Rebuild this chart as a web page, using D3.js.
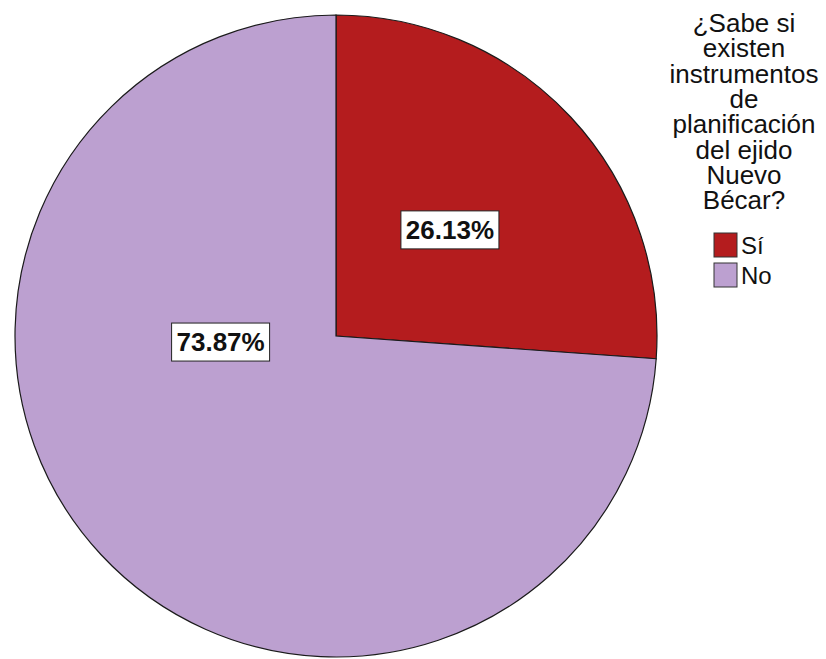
<!DOCTYPE html>
<html>
<head>
<meta charset="utf-8">
<script src="https://cdn.jsdelivr.net/npm/d3@7"></script>
<style>
  body { margin: 0; background: #fff; }
  svg { display: block; font-family: Arial, "Liberation Sans", sans-serif; }
</style>
</head>
<body>
<svg id="chart" width="826" height="659"></svg>
<script>
const categories = ['Sí', 'No'];
const percents = [26.13, 73.87];
const sliceColors = ['#B41C1E', '#BCA0D0'];
const legendTitle = ['¿Sabe si', 'existen', 'instrumentos', 'de', 'planificación', 'del ejido', 'Nuevo', 'Bécar?'];

const svg = d3.select('#chart');
const cx = 336, cy = 336, radius = 321;

const g = svg.append('g').attr('transform', `translate(${cx},${cy})`);

const pie = d3.pie().sort(null).value(d => d.value);
const arcs = pie(categories.map((c, i) => ({ name: c, value: percents[i] })));
const arc = d3.arc().innerRadius(0).outerRadius(radius);

g.selectAll('path.slice')
    .data(arcs)
    .enter()
    .append('path')
    .attr('class', 'slice')
    .attr('d', arc)
    .style('fill', (d, i) => sliceColors[i])
    .style('stroke', '#1a1a1a')
    .style('stroke-width', 1.2);

// label positions (SPSS places the big slice label left of centre)
function labelPoint(d, i) {
    if (i === 0) {
        const a = (d.startAngle + d.endAngle) / 2;
        return [Math.sin(a) * radius * 0.485, -Math.cos(a) * radius * 0.485];
    }
    const a = 267 * Math.PI / 180;
    return [Math.sin(a) * radius * 0.36, -Math.cos(a) * radius * 0.36];
}

const labels = g.selectAll('g.lbl')
    .data(arcs)
    .enter()
    .append('g')
    .attr('class', 'lbl')
    .attr('transform', (d, i) => `translate(${labelPoint(d, i)})`);

labels.append('rect')
    .attr('x', -49).attr('y', -19)
    .attr('width', 98).attr('height', 38)
    .style('fill', '#fff')
    .style('stroke', '#222')
    .style('stroke-width', 1);

labels.append('text')
    .attr('text-anchor', 'middle')
    .attr('dy', '0.36em')
    .style('font-size', '26px')
    .style('font-weight', 'bold')
    .style('fill', '#111')
    .text(d => d3.format('.2f')(d.data.value) + '%');

// Legend
const lg = svg.append('g').attr('transform', 'translate(744,0)');
lg.selectAll('text.title')
    .data(legendTitle)
    .enter()
    .append('text')
    .attr('class', 'title')
    .attr('text-anchor', 'middle')
    .attr('y', (d, i) => 32 + i * 25.3)
    .style('font-size', '26px')
    .style('fill', '#111')
    .text(d => d);

const items = svg.append('g').attr('transform', 'translate(714,233)');
const item = items.selectAll('g')
    .data(categories)
    .enter()
    .append('g')
    .attr('transform', (d, i) => `translate(0,${i * 30})`);

item.append('rect')
    .attr('width', 23).attr('height', 24)
    .style('fill', (d, i) => sliceColors[i])
    .style('stroke', '#333')
    .style('stroke-width', 1);

item.append('text')
    .attr('x', 27).attr('y', 21)
    .style('font-size', '24px')
    .style('fill', '#111')
    .text(d => d);
</script>
</body>
</html>
